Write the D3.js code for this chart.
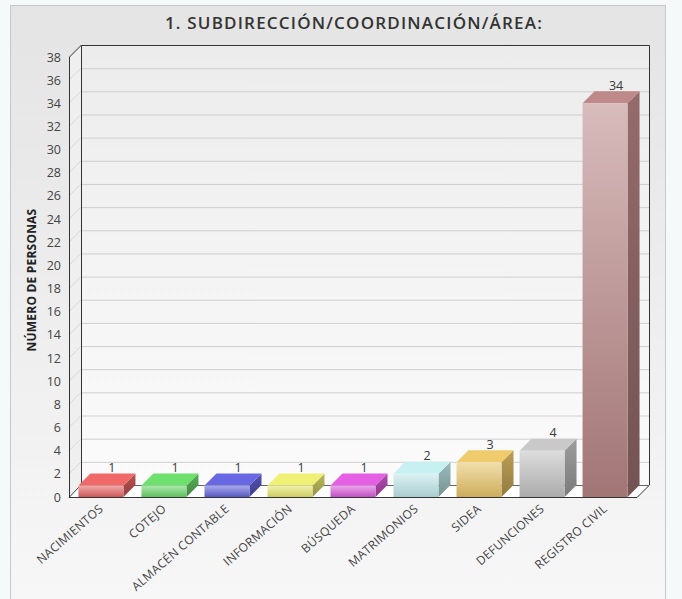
<!DOCTYPE html>
<html><head><meta charset="utf-8">
<script src="https://cdn.jsdelivr.net/npm/d3@7"></script>
<style>html,body{margin:0;padding:0;background:#f5f9f9;}svg{display:block;font-family:"Open Sans",sans-serif;}</style>
</head><body>
<svg id="c" width="682" height="599"></svg>
<script>
const title = "1. SUBDIRECCIÓN/COORDINACIÓN/ÁREA:";
const yTitle = "NÚMERO DE PERSONAS";
const categories = ["NACIMIENTOS","COTEJO","ALMACÉN CONTABLE","INFORMACIÓN","BÚSQUEDA","MATRIMONIOS","SIDEA","DEFUNCIONES","REGISTRO CIVIL"];
const values = [1,1,1,1,1,2,3,4,34];
const barColors = ["#e86464","#6ad86a","#6464dc","#e8e870","#dc5cdc","#bfe8ea","#e8c468","#c2c2c2","#b88484"];
const yTicks = d3.range(0, 39, 2);

const svg = d3.select("#c");
const defs = svg.append("defs");
const bg = defs.append("linearGradient").attr("id","bg").attr("x1",0).attr("y1",0).attr("x2",0).attr("y2",1);
bg.append("stop").attr("offset","0").attr("stop-color","#e4e4e4");
bg.append("stop").attr("offset","1").attr("stop-color","#f7f7f7");
const wall = defs.append("linearGradient").attr("id","wall").attr("x1",0).attr("y1",0).attr("x2",0).attr("y2",1);
wall.append("stop").attr("offset","0").attr("stop-color","#ececec");
wall.append("stop").attr("offset","1").attr("stop-color","#fbfbfb");

// chart frame
svg.append("rect").attr("x",10.5).attr("y",5.5).attr("width",655).attr("height",600)
  .attr("fill","url(#bg)").attr("stroke","#c8c8c8");

const dx = 12, dy = 12;
const x = d3.scaleBand().domain(categories).range([69, 637]).paddingInner(0.286).paddingOuter(0.15);
const y = d3.scaleLinear().domain([0, 38]).range([497, 57]);
const x0 = 69, x1 = 637;

// back wall
svg.append("rect").attr("x",x0+dx).attr("y",y(38)-dy).attr("width",x1-x0).attr("height",y(0)-y(38))
  .attr("fill","url(#wall)");
// side wall
svg.append("path").attr("d",`M${x0},${y(38)}L${x0+dx},${y(38)-dy}L${x0+dx},${y(0)-dy}L${x0},${y(0)}Z`)
  .attr("fill","#efefef");
// floor
svg.append("path").attr("d",`M${x0},${y(0)}L${x0+dx},${y(0)-dy}L${x1+dx},${y(0)-dy}L${x1},${y(0)}Z`)
  .attr("fill","#ffffff");

// gridlines
const grid = svg.append("g");
yTicks.filter(t=>t>0).forEach(t=>{
  grid.append("line").attr("x1",x0+dx).attr("x2",x1+dx).attr("y1",y(t)-dy+0.5).attr("y2",y(t)-dy+0.5)
    .attr("stroke","#cfcfcf");
  grid.append("line").attr("x1",x0).attr("x2",x0+dx).attr("y1",y(t)).attr("y2",y(t)-dy)
    .attr("stroke","#d8d8d8");
});
// wall edges
const edge = svg.append("g").attr("fill","none").attr("stroke","#333").attr("stroke-width",1);
edge.append("path").attr("d",`M${x0+dx+0.5},${y(0)-dy}V${y(38)-dy+0.5}H${x1+dx+0.5}V${y(0)-dy}`);
edge.append("path").attr("d",`M${x0+0.5},${y(0)}V${y(38)}L${x0+dx+0.5},${y(38)-dy}`);
edge.append("path").attr("d",`M${x0},${y(0)+0.5}H${x1}L${x1+dx},${y(0)-dy+0.5}M${x0},${y(0)+0.5}L${x0+dx},${y(0)-dy}`);
edge.append("path").attr("d",`M${x0+dx},${y(0)-dy+0.5}H${x1+dx}`).attr("stroke","#666");

// y axis ticks labels
const yAxis = d3.axisLeft(y).tickValues(yTicks).tickSize(0).tickPadding(0);
const ya = svg.append("g").attr("transform",`translate(${x0-8},0)`).call(yAxis);
ya.select(".domain").remove();
ya.selectAll("text").attr("font-size",12.5).attr("fill","#444").attr("font-family","Open Sans");

// bars
const bars = svg.append("g");
categories.forEach((c,i)=>{
  const base = d3.color(barColors[i]);
  const gid = "g"+i;
  const g = defs.append("linearGradient").attr("id",gid).attr("x1",0).attr("y1",0).attr("x2",0).attr("y2",1);
  g.append("stop").attr("offset","0").attr("stop-color",d3.interpolateRgb(base,"#ffffff")(0.45));
  g.append("stop").attr("offset","1").attr("stop-color",base.darker(0.35));
  const sid = "s"+i;
  const s = defs.append("linearGradient").attr("id",sid).attr("x1",0).attr("y1",0).attr("x2",0).attr("y2",1);
  s.append("stop").attr("offset","0").attr("stop-color",base.darker(0.6));
  s.append("stop").attr("offset","1").attr("stop-color",base.darker(1.3));
  const bx = x(c), bw = x.bandwidth(), top = y(values[i]), bot = y(0);
  // side face
  bars.append("path").attr("d",`M${bx+bw},${top}L${bx+bw+dx},${top-dy}L${bx+bw+dx},${bot-dy}L${bx+bw},${bot}Z`)
    .attr("fill",`url(#${sid})`);
  // top face
  bars.append("path").attr("d",`M${bx},${top}L${bx+dx},${top-dy}L${bx+bw+dx},${top-dy}L${bx+bw},${top}Z`)
    .attr("fill",base.brighter(0.1));
  // front face
  bars.append("rect").attr("x",bx).attr("y",top).attr("width",bw).attr("height",bot-top)
    .attr("fill",`url(#${gid})`);
  // value label
  bars.append("text").attr("x",bx+bw/2+dx/2+5).attr("y",top-dy-1.5).attr("text-anchor","middle")
    .attr("font-size",12.5).attr("fill","#3a3a3a").text(values[i]);
});

// x labels
const xl = svg.append("g");
categories.forEach(c=>{
  const cx = x(c)+x.bandwidth()/2;
  xl.append("text").attr("transform",`translate(${cx+3},${y(0)+13}) rotate(-41)`)
    .attr("text-anchor","end").attr("font-size",12).attr("letter-spacing",0.3)
    .attr("fill","#444").text(c);
});

// title
svg.append("text").attr("x",354).attr("y",29).attr("text-anchor","middle").attr("font-size",17)
  .attr("letter-spacing",1.2).attr("font-weight",600).attr("fill","#333").text(title);

// y title
svg.append("text").attr("transform","translate(36,280) rotate(-90)").attr("text-anchor","middle")
  .attr("font-size",12).attr("letter-spacing",0.2).attr("font-weight",700).attr("fill","#222").text(yTitle);
</script>
</body></html>
